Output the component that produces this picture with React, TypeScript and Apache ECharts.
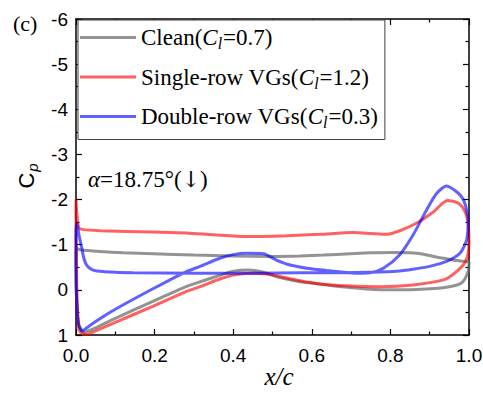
import React, { useEffect, useRef } from "react";
import * as echarts from "echarts";

// ---- data (x/c, Cp) ----
const seriesNames = ["Clean", "Single-row VGs", "Double-row VGs"];
const liftCoeffs = ["0.7", "1.2", "0.3"];
const seriesColors = ["rgba(105,105,105,0.72)", "rgba(255,0,0,0.62)", "rgba(0,0,255,0.62)"];

const cleanData: [number, number][] = [
  [0.018, 0.95], [0.008, 0.8], [0.003, 0.4], [0.0, -0.2], [0.0, -0.7], [0.002, -0.92],
  [0.01, -0.89], [0.061, -0.85], [0.12, -0.82], [0.197, -0.8], [0.3, -0.77], [0.4, -0.75],
  [0.5, -0.74], [0.57, -0.75], [0.63, -0.77], [0.697, -0.8], [0.75, -0.82], [0.807, -0.83],
  [0.85, -0.82], [0.884, -0.79], [0.91, -0.74], [0.943, -0.69], [0.97, -0.65], [0.994, -0.63],
  [1.0, -0.63], [0.998, -0.41], [0.981, -0.15], [0.943, -0.06], [0.867, -0.01], [0.78, 0.0],
  [0.697, -0.05], [0.62, -0.13], [0.57, -0.18], [0.519, -0.27], [0.477, -0.39], [0.439, -0.44],
  [0.4, -0.41], [0.366, -0.32], [0.316, -0.18], [0.28, -0.07], [0.197, 0.25], [0.1, 0.63],
  [0.05, 0.84], [0.018, 0.95],
];

const singleData: [number, number][] = [
  [0.027, 0.99], [0.012, 0.95], [0.006, 0.8], [0.003, 0.3], [0.001, -0.5], [0.0, -1.2],
  [0.0, -2.0], [0.003, -1.6], [0.007, -1.38], [0.015, -1.34], [0.061, -1.31], [0.197, -1.28],
  [0.28, -1.26], [0.35, -1.22], [0.434, -1.18], [0.536, -1.2], [0.62, -1.23], [0.705, -1.27],
  [0.75, -1.25], [0.79, -1.23], [0.824, -1.31], [0.867, -1.48], [0.91, -1.73], [0.945, -1.98],
  [0.973, -1.92], [0.99, -1.73], [0.998, -1.48], [1.0, -1.05], [0.993, -0.66], [0.969, -0.41],
  [0.935, -0.22], [0.858, -0.11], [0.774, -0.07], [0.689, -0.09], [0.62, -0.13], [0.57, -0.2],
  [0.527, -0.28], [0.485, -0.35], [0.443, -0.37], [0.4, -0.33], [0.366, -0.24], [0.316, -0.07],
  [0.28, 0.04], [0.197, 0.36], [0.1, 0.72], [0.05, 0.91], [0.027, 0.99],
];

const doubleData: [number, number][] = [
  [0.015, 0.92], [0.006, 0.75], [0.002, 0.3], [0.0, -0.5], [0.0, -1.2], [0.002, -1.48],
  [0.008, -1.2], [0.014, -0.96], [0.02, -0.7], [0.027, -0.55], [0.04, -0.45], [0.053, -0.42],
  [0.1, -0.39], [0.145, -0.38], [0.3, -0.37], [0.45, -0.37], [0.57, -0.38], [0.65, -0.38],
  [0.74, -0.39], [0.816, -0.41], [0.867, -0.47], [0.9, -0.52], [0.943, -0.63], [0.977, -0.81],
  [0.994, -1.11], [0.998, -1.55], [0.994, -1.77], [0.986, -1.99], [0.973, -2.14], [0.943, -2.3],
  [0.918, -2.14], [0.892, -1.77], [0.858, -1.22], [0.824, -0.78], [0.782, -0.48], [0.748, -0.38],
  [0.714, -0.37], [0.672, -0.4], [0.638, -0.43], [0.587, -0.48], [0.545, -0.55], [0.51, -0.66],
  [0.477, -0.8], [0.434, -0.81], [0.4, -0.78], [0.366, -0.7], [0.316, -0.52], [0.28, -0.4],
  [0.197, -0.03], [0.1, 0.43], [0.05, 0.7], [0.015, 0.92],
];

const allData = [cleanData, singleData, doubleData];

// ---- axes ----
const xMin = 0;
const xMax = 1;
const xInterval = 0.2;
const yMin = -6;
const yMax = 1;
const yInterval = 1;

const serif = "'Liberation Serif', 'Times New Roman', serif";
const sans = "'Liberation Sans', Arial, sans-serif";

export default function App() {
  const ref = useRef<HTMLDivElement>(null);

  useEffect(() => {
    if (!ref.current) return;
    const chart = echarts.init(ref.current, null, { renderer: "svg" });

    const frameLine = { show: true, onZero: false, lineStyle: { color: "#000", width: 1.5 } };
    const tick = { show: true, inside: true, length: 6, lineStyle: { color: "#000", width: 1.2 } };
    const minor = { show: true, splitNumber: 2, length: 3.5, lineStyle: { color: "#000", width: 1.2 } };

    const option: any = {
      animation: false,
      backgroundColor: "#fff",
      grid: { left: 76, right: 14, top: 19, bottom: 59, containLabel: false, outerBoundsMode: "none" },
      legend: {
        show: true,
        orient: "vertical",
        left: 78,
        top: 20,
        itemWidth: 56,
        itemHeight: 3,
        itemGap: 14,
        icon: "rect",
        padding: [6, 7, 9, 2],
        borderColor: "#404040",
        borderWidth: 1,
        backgroundColor: "#fff",
        data: seriesNames,
        formatter: (name: string) => {
          const i = seriesNames.indexOf(name);
          return `{n|${name}(}{i|C}{s|l}{n|=${liftCoeffs[i]})}`;
        },
        textStyle: {
          rich: {
            n: { fontFamily: serif, fontSize: 23, color: "#000" },
            i: { fontFamily: serif, fontSize: 23, fontStyle: "italic", color: "#000" },
            s: { fontFamily: serif, fontSize: 16, fontStyle: "italic", color: "#000", padding: [12, 1, 0, 0] },
          },
        },
      },
      xAxis: [
        {
          type: "value",
          position: "bottom",
          min: xMin,
          max: xMax,
          interval: xInterval,
          axisLine: frameLine,
          axisTick: tick,
          minorTick: minor,
          splitLine: { show: false },
          axisLabel: {
            formatter: (v: number) => v.toFixed(1),
            fontFamily: sans,
            fontSize: 19,
            color: "#000",
            margin: 11,
          },
          name: "x/c",
          nameLocation: "middle",
          nameMoveOverlap: false,
          nameGap: 29,
          nameTextStyle: {
            fontFamily: serif,
            fontStyle: "italic",
            fontSize: 25,
            lineHeight: 24,
            color: "#000",
            padding: [0, 0, 0, 13],
          },
        },
        {
          type: "value",
          position: "top",
          min: xMin,
          max: xMax,
          interval: xInterval,
          axisLine: frameLine,
          axisTick: tick,
          minorTick: minor,
          splitLine: { show: false },
          axisLabel: { show: false },
        },
      ],
      yAxis: [
        {
          type: "value",
          position: "left",
          inverse: true,
          min: yMin,
          max: yMax,
          interval: yInterval,
          axisLine: frameLine,
          axisTick: tick,
          minorTick: minor,
          splitLine: { show: false },
          axisLabel: {
            formatter: (v: number) => String(v),
            fontFamily: sans,
            fontSize: 19,
            color: "#000",
            margin: 8,
          },
          name: "{c|C}{p|p}",
          nameLocation: "middle",
          nameGap: 32,
          nameRotate: 90,
          nameTextStyle: {
            padding: [0, 0, 0, 2],
            rich: {
              c: { fontFamily: sans, fontSize: 22, color: "#000" },
              p: { fontFamily: sans, fontSize: 15, fontStyle: "italic", color: "#000", padding: [12, 0, 0, 1] },
            },
          },
        },
        {
          type: "value",
          position: "right",
          inverse: true,
          min: yMin,
          max: yMax,
          interval: yInterval,
          axisLine: frameLine,
          axisTick: tick,
          minorTick: minor,
          splitLine: { show: false },
          axisLabel: { show: false },
        },
      ],
      graphic: [
        {
          type: "text",
          left: 13,
          top: 12,
          style: { text: "(c)", fontFamily: serif, fontSize: 22, fill: "#000" },
        },
        {
          type: "text",
          left: 88,
          top: 168,
          style: {
            text: "{i|α}{n|=18.75°(}{a|↓}{n|)}",
            rich: {
              i: { fontFamily: serif, fontSize: 23, fontStyle: "italic", fill: "#000" },
              n: { fontFamily: serif, fontSize: 23, fill: "#000" },
              a: { fontFamily: "'DejaVu Serif', serif", fontSize: 22, fill: "#000" },
            },
          },
        },
      ],
      series: seriesNames.map((name, i) => ({
        name,
        type: "line",
        xAxisIndex: 0,
        yAxisIndex: 0,
        data: allData[i],
        symbol: "none",
        smooth: 0.25,
        color: seriesColors[i],
        lineStyle: { color: seriesColors[i], width: 3 },
        z: 2 + i,
      })),
    };

    chart.setOption(option);
    return () => chart.dispose();
  }, []);

  return (
    <div
      ref={ref}
      style={{ position: "fixed", left: 0, top: 0, width: 483, height: 394 }}
    />
  );
}
